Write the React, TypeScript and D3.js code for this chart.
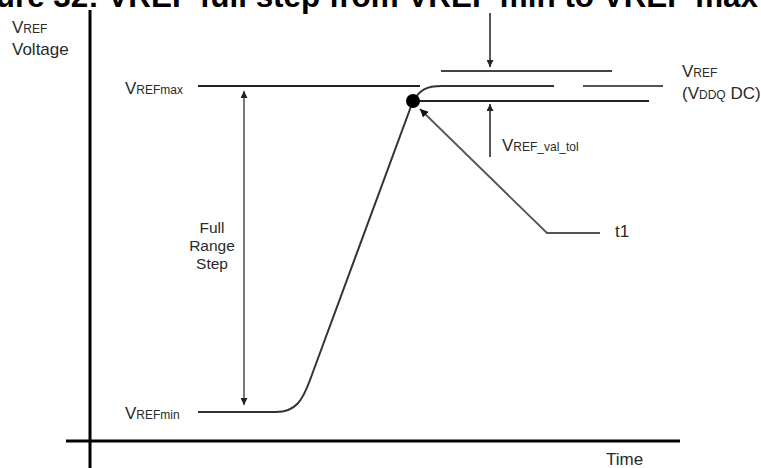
import React from "react";
import * as d3 from "d3";

// ---- Diagram data (time units ~ horizontal, voltage units ~ vertical) ----
const TITLE = "Figure 32: VREF full step from VREF min to VREF max";
const TIME_DOMAIN = [0, 590];
const VOLT_DOMAIN = [0, 431];
const X_AXIS_EXTENT = [-24, 590];
const Y_AXIS_EXTENT = [-27, 431];

const VREF_MIN = 29;
const VREF_MAX = 355;
const VREF_UPPER = 370;
const VREF_LOWER = 340;

// horizontal level segments: [tStart, tEnd, volt]
const VREFMAX_SEG = [108, 330, VREF_MAX];
const UPPER_SEG = [351, 522, VREF_UPPER];
const DC_SEG = [493, 573, VREF_MAX];
const LOWER_SEG = [323, 559, VREF_LOWER];

// step waveform: flat, knee, ramp to t1
const RAMP_FLAT = [108, 186];
const RAMP_KNEE = [[206, 29], [212.6, 41], [220, 61]];
const T1_POINT = [323, 340];
// settling from t1 to VREF DC
const SETTLE_CURVE = [[330, 351], [336, 355], [352, 355]];
const SETTLE_END = 464;

// arrows: [t, vFrom, vTo]
const TOP_ARROW = [400, 428, 374];
const BOTTOM_ARROW = [400, 284, 337];
const RANGE_ARROW = [154, 36, 350];
const T1_LEADER = [[510, 208], [457, 208], [330, 332]];

const W = 761;
const H = 468;

export default function App() {
  const x = d3.scaleLinear().domain(TIME_DOMAIN).range([90, 680]);
  const y = d3.scaleLinear().domain(VOLT_DOMAIN).range([441, 10]);

  const ramp = d3.path();
  ramp.moveTo(x(RAMP_FLAT[0]), y(VREF_MIN));
  ramp.lineTo(x(RAMP_FLAT[1]), y(VREF_MIN));
  ramp.bezierCurveTo(
    x(RAMP_KNEE[0][0]), y(RAMP_KNEE[0][1]),
    x(RAMP_KNEE[1][0]), y(RAMP_KNEE[1][1]),
    x(RAMP_KNEE[2][0]), y(RAMP_KNEE[2][1])
  );
  ramp.lineTo(x(T1_POINT[0]), y(T1_POINT[1]));

  const settle = d3.path();
  settle.moveTo(x(T1_POINT[0]), y(T1_POINT[1]));
  settle.bezierCurveTo(
    x(SETTLE_CURVE[0][0]), y(SETTLE_CURVE[0][1]),
    x(SETTLE_CURVE[1][0]), y(SETTLE_CURVE[1][1]),
    x(SETTLE_CURVE[2][0]), y(SETTLE_CURVE[2][1])
  );
  settle.lineTo(x(SETTLE_END), y(VREF_MAX));

  const leader = d3.line().x((d: number[]) => x(d[0])).y((d: number[]) => y(d[1]))(T1_LEADER as any);

  const seg = (s: number[], stroke: string, sw: number) => (
    <line x1={x(s[0])} x2={x(s[1])} y1={y(s[2])} y2={y(s[2])} stroke={stroke} strokeWidth={sw} />
  );

  const font = "'Liberation Sans', Arial, Helvetica, sans-serif";
  const txt = "#2a2a2a";
  const big = 17;
  const small = 12;

  return (
    <svg width={W} height={H} style={{ position: "absolute", left: 0, top: 0, background: "#fff" }} fontFamily={font}>
      <defs>
        <marker id="ah" viewBox="0 0 10 10" refX="10" refY="5" markerWidth="7" markerHeight="7" markerUnits="userSpaceOnUse" orient="auto-start-reverse">
          <path d="M0,0 L10,5 L0,10 z" fill="#222" />
        </marker>
        <marker id="ah2" viewBox="0 0 10 10" refX="10" refY="5" markerWidth="8" markerHeight="8" markerUnits="userSpaceOnUse" orient="auto-start-reverse">
          <path d="M0,0 L10,5 L0,10 z" fill="#111" />
        </marker>
      </defs>
      <rect width={W} height={H} fill="#fff" />

      {/* title (cropped at top) */}
      <text x={758} y={7} textAnchor="end" fontSize={31.4} fontWeight="bold" fill="#000">{TITLE}</text>

      {/* axes */}
      <line x1={x(0)} x2={x(0)} y1={y(Y_AXIS_EXTENT[0])} y2={y(Y_AXIS_EXTENT[1])} stroke="#000" strokeWidth={3} />
      <line x1={x(X_AXIS_EXTENT[0])} x2={x(X_AXIS_EXTENT[1])} y1={y(0)} y2={y(0)} stroke="#000" strokeWidth={3} />

      {/* level lines */}
      {seg(VREFMAX_SEG, "#222", 2)}
      {seg(UPPER_SEG, "#444", 2)}
      {seg(DC_SEG, "#555", 1.8)}
      {seg(LOWER_SEG, "#222", 2.2)}

      {/* waveform */}
      <path d={ramp.toString()} fill="none" stroke="#333" strokeWidth={2} />
      <path d={settle.toString()} fill="none" stroke="#333" strokeWidth={2} />
      <circle cx={x(T1_POINT[0])} cy={y(T1_POINT[1])} r={7} fill="#000" />

      {/* arrows */}
      <line x1={x(TOP_ARROW[0])} x2={x(TOP_ARROW[0])} y1={y(TOP_ARROW[1])} y2={y(TOP_ARROW[2])} stroke="#444" strokeWidth={1.8} markerEnd="url(#ah)" />
      <line x1={x(BOTTOM_ARROW[0])} x2={x(BOTTOM_ARROW[0])} y1={y(BOTTOM_ARROW[1])} y2={y(BOTTOM_ARROW[2])} stroke="#444" strokeWidth={1.8} markerEnd="url(#ah)" />
      <line x1={x(RANGE_ARROW[0])} x2={x(RANGE_ARROW[0])} y1={y(RANGE_ARROW[1])} y2={y(RANGE_ARROW[2])} stroke="#777" strokeWidth={2} markerStart="url(#ah)" markerEnd="url(#ah)" />
      <path d={leader as string} fill="none" stroke="#555" strokeWidth={1.8} markerEnd="url(#ah2)" />

      {/* labels */}
      <text x={12} y={33} fontSize={big} fill={txt}>V<tspan fontSize={small}>REF</tspan></text>
      <text x={12} y={55} fontSize={big} fill={txt}>Voltage</text>

      <text x={125} y={y(VREF_MAX) + 8} fontSize={big} fill={txt}>V<tspan fontSize={small}>REFmax</tspan></text>
      <text x={125} y={y(VREF_MIN) + 7} fontSize={big} fill={txt}>V<tspan fontSize={small}>REFmin</tspan></text>

      <text x={212} y={233} fontSize={15.5} fill={txt} textAnchor="middle">Full</text>
      <text x={212} y={251} fontSize={15.5} fill={txt} textAnchor="middle">Range</text>
      <text x={212} y={269} fontSize={15.5} fill={txt} textAnchor="middle">Step</text>

      <text x={682} y={77} fontSize={big} fill={txt}>V<tspan fontSize={small}>REF</tspan></text>
      <text x={682} y={99} fontSize={big} fill={txt}>(V<tspan fontSize={small}>DDQ</tspan> DC)</text>

      <text x={502} y={151} fontSize={big} fill={txt}>V<tspan fontSize={small}>REF_val_tol</tspan></text>

      <text x={615} y={237} fontSize={big} fill={txt}>t1</text>
      <text x={606} y={465} fontSize={big} fill={txt}>Time</text>
    </svg>
  );
}
